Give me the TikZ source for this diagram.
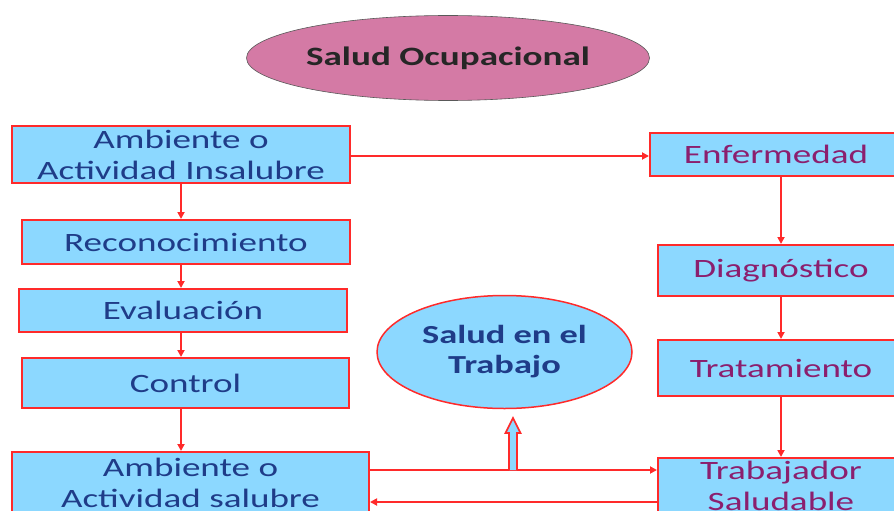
\documentclass[tikz,border=0pt]{standalone}
\usepackage{fontspec}
\setmainfont{Carlito}[FakeStretch=1.4]
\usetikzlibrary{arrows.meta,shapes.geometric,calc}
\definecolor{boxblue}{HTML}{8CD8FF}
\definecolor{boxred}{HTML}{FF2A2A}
\definecolor{txtblue}{HTML}{1F3C88}
\definecolor{txtpurple}{HTML}{8B1F6E}
\definecolor{titlepink}{HTML}{D47AA5}
\tikzset{
  box/.style={draw=boxred, fill=boxblue, line width=2pt, inner sep=0pt, align=center,
    font=\fontsize{26.5}{31}\selectfont},
  leftbox/.style={box, text=txtblue},
  rightbox/.style={box, text=txtpurple},
  arr/.style={draw=boxred, line width=2pt, -{Triangle[length=7pt,width=7pt]}},
}
\begin{document}
\begin{tikzpicture}[x=1pt,y=-1pt]
\useasboundingbox (0,0) rectangle (894,511);
% title
\node[ellipse, draw=gray!70!black, line width=0.6pt, fill=titlepink, minimum width=403pt, minimum height=85pt,
  inner sep=0pt, font=\fontsize{26.5}{30}\selectfont\bfseries, text=black!85] (T) at (448,58) {Salud Ocupacional};
% left column
\node[leftbox, minimum width=338pt, minimum height=57pt] (A1) at (181,154.5) {Ambiente o\\Actividad Insalubre};
\node[leftbox, minimum width=328pt, minimum height=44pt] (R) at (186,242) {Reconocimiento};
\node[leftbox, minimum width=328pt, minimum height=43pt] (E) at (183,310.5) {Evaluación};
\node[leftbox, minimum width=327pt, minimum height=50pt] (C) at (185.5,383) {Control};
\node[leftbox, minimum width=357pt, minimum height=62pt] (A2) at (190.5,483) {Ambiente o\\Actividad salubre};
% right column
\node[rightbox, minimum width=252pt, minimum height=43pt] (EN) at (776,154.5) {Enfermedad};
\node[rightbox, minimum width=246pt, minimum height=51pt] (D) at (781,270.5) {Diagnóstico};
\node[rightbox, minimum width=246pt, minimum height=56pt] (TR) at (781,368) {Tratamiento};
\node[rightbox, minimum width=246pt, minimum height=56pt] (TS) at (781,486) {Trabajador\\Saludable};
% centre ellipse
\node[ellipse, draw=boxred, line width=1.5pt, fill=boxblue, minimum width=255pt, minimum height=113pt,
  inner sep=0pt, align=center, font=\fontsize{26}{30}\selectfont\bfseries, text=txtblue] (ST) at (504.5,352) {Salud en el\\Trabajo};
% left arrows
\draw[arr] (A1.south) -- (A1.south |- R.north);
\draw[arr] (A1.south |- R.south) -- (A1.south |- E.north);
\draw[arr] (A1.south |- E.south) -- (A1.south |- C.north);
\draw[arr] (A1.south |- C.south) -- (A1.south |- A2.north);
% right arrows
\draw[arr] (D.north |- EN.south) -- (D.north);
\draw[arr] (D.south) -- (TR.north);
\draw[arr] (TR.south) -- (TS.north);
% horizontal arrows
\coordinate (h1) at ([yshift=-1.5pt]A1.east);
\draw[arr] (h1) -- (h1 -| EN.west);
\coordinate (h2) at ([yshift=13pt]A2.east);
\draw[arr] (h2) -- (h2 -| TS.west);
\coordinate (h3) at ([yshift=-19pt]A2.east);
\draw[arr] (h3 -| TS.west) -- (h3);
% hollow arrow up
\coordinate (up1) at ([xshift=8.5pt]h2 -| ST.south);
\draw[draw=boxred, line width=1.6pt, fill=boxblue, line join=miter]
  (up1) ++(-4,0) -- ++(0,-37) -- ++(-3.5,0) -- ++(7.5,-15) -- ++(7.5,15) -- ++(-3.5,0) -- ++(0,37);
\end{tikzpicture}
\end{document}
